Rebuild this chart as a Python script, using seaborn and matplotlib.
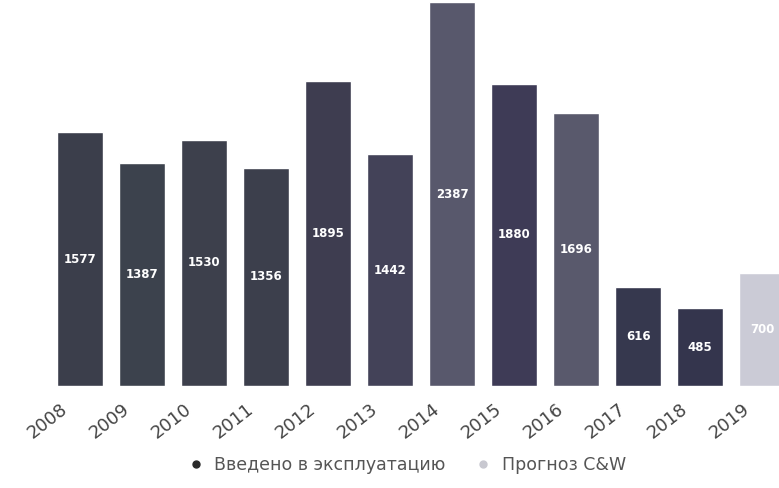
import matplotlib
matplotlib.use("Agg")
import matplotlib.pyplot as plt
from matplotlib.lines import Line2D
from matplotlib.transforms import ScaledTranslation
import seaborn as sns
import pandas as pd

years = ["2008", "2009", "2010", "2011", "2012", "2013",
         "2014", "2015", "2016", "2017", "2018", "2019"]
values = [1577, 1387, 1530, 1356, 1895, 1442, 2387, 1880, 1696, 616, 485, 700]
status = ["fact"] * 11 + ["forecast"]
bar_colors = ["#3b3e4b", "#3c424d", "#3d404c", "#3c3f4c", "#3e3d50", "#434258",
              "#58586c", "#3e3b56", "#59596c", "#36384e", "#34354d", "#cbcbd6"]
legend_labels = ["Введено в эксплуатацию", "Прогноз C&W"]
legend_colors = ["#2a2a2a", "#c8c8d0"]

df = pd.DataFrame({"year": years, "value": values, "status": status})

sns.set_theme(style="white")
plt.rcParams["font.family"] = ["DejaVu Sans"]

fig = plt.figure(figsize=(7.79, 4.88), dpi=100)
ax = fig.add_axes([0.0, 0.209, 1.0, 0.791])

sns.barplot(data=df, x="year", y="value", hue="year", palette=bar_colors,
            width=0.75, legend=False, saturation=1, ax=ax)

ax.set_xlim(-1.29, 11.27)
ax.set_ylim(0, 2400)
ax.set_xlabel("")
ax.set_ylabel("")
ax.set_yticks([])
for s in ax.spines.values():
    s.set_visible(False)

for i, v in enumerate(values):
    ax.text(i, v / 2, str(v), ha="center", va="center", color="white",
            fontsize=8.5, fontweight="bold")

ax.tick_params(axis="x", length=0, pad=3)
ax.set_xticks(range(len(years)))
ax.set_xticklabels(years, rotation=38, ha="right", rotation_mode="anchor",
                   fontsize=13, color="#444444")
for lbl in ax.get_xticklabels():
    lbl.set_transform(lbl.get_transform() +
                      ScaledTranslation(-0.2, -0.1, fig.dpi_scale_trans))

handles = [Line2D([0], [0], marker="o", linestyle="", markersize=5,
                  markerfacecolor=c, markeredgecolor=c) for c in legend_colors]
fig.legend(handles, legend_labels, loc="center", bbox_to_anchor=(0.516, 0.047),
           ncol=2, frameon=False, fontsize=12.5, handletextpad=0.05,
           columnspacing=1.2, labelcolor="#555555")

fig.savefig("out.png", dpi=100)
